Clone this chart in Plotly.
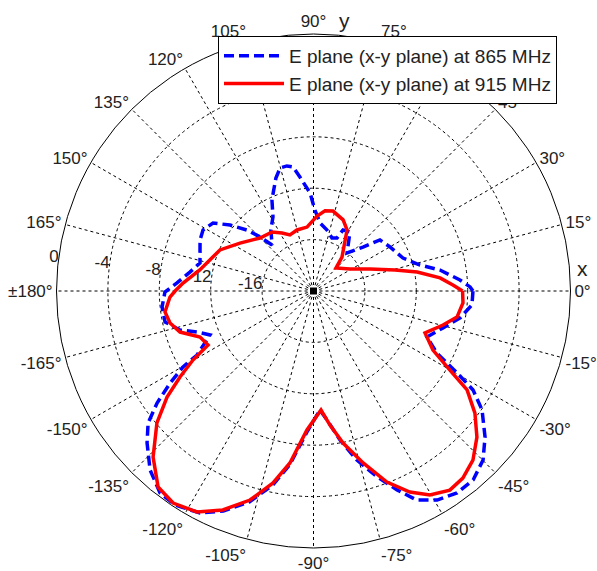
import plotly.graph_objects as go

# Angular grid: spokes every 15 degrees, labelled in the -180..180 convention
angle_ticks = list(range(0, 360, 15))
angle_labels = ["0°", "15°", "30°", "45°", "60°", "75°", "90°", "105°", "120°",
                "135°", "150°", "165°", "±180°", "-165°", "-150°", "-135°",
                "-120°", "-105°", "-90°", "-75°", "-60°", "-45°", "-30°", "-15°"]

# Radial scale in dB
radial_range = [-20, 0]
radial_ticks = [-16, -12, -8, -4, 0]
radial_labels = ["-16", "-12", "-8", "-4", "0"]

# E plane (x-y plane) at 865 MHz: angle (deg) and normalised gain (dB)
theta_865 = [0, 1.5, 4.3, 9.4, 13.7, 20.2, 29.9, 37.5, 41.6, 48.6, 58.3, 64.2,
             66.1, 70.8, 77.5, 84.5, 89, 92, 96.8, 99.4, 102, 105.2, 108.4,
             114.5, 118.7, 124.9, 132, 134.7, 137.5, 141.7, 145.9, 151.1,
             155.8, 166.1, 171.3, 176.6, -179.6, -174, -168.2, -163.7, -160.6,
             -157, -151.2, -149.8, -147.3, -144.4, -141.4, -137.6, -132.4,
             -127.2, -122.9, -117.1, -112.3, -106.9, -101.9, -97.8, -92.7,
             -86.9, -84, -79.9, -75.6, -71.1, -67.2, -63.7, -59.4, -54.6,
             -49.8, -44.9, -40.4, -35.2, -31.8, -29.7, -26.7, -22.1, -15.9,
             -10.4, -5, 0]
gain_865 = [-7.59, -7.81, -8.57, -10.02, -11.47, -12.58, -13.13, -13.48, -14.85,
            -16.05, -14.6, -14.72, -15.49, -15.63, -15.14, -14.68, -13.7,
            -12.37, -11.07, -10.22, -10.05, -10.08, -10.73, -12.2, -13.43,
            -14.2, -15.18, -14.08, -12.98, -11.72, -10.56, -10.18, -10.32,
            -10.9, -10.27, -9.36, -8.44, -8.15, -8.2, -9.18, -10.39, -11.25,
            -9.66, -8.25, -6.74, -5.03, -3.53, -2.46, -1.14, -0.26, -0.16,
            -0.6, -1.5, -2.85, -4.55, -6.35, -9.0, -10.72, -9.91, -8.22, -6.42,
            -4.71, -3.21, -1.85, -1.1, -0.72, -0.75, -1.37, -2.47, -3.95,
            -5.39, -7.14, -9.25, -10.47, -9.52, -8.4, -7.62, -7.59]

# E plane (x-y plane) at 915 MHz
theta_915 = [0, 2.5, 5.9, 10.4, 14.4, 21.3, 31.1, 45.6, 50, 61.2, 67.4, 76.3,
             81.8, 87.3, 95.8, 105.1, 112.8, 118.5, 125.1, 135.3, 146.9, 156.3,
             169.5, 176.5, 180, -177.6, -172, -167.4, -162.9, -157.9, -152.9,
             -150.2, -147.2, -144.1, -139.9, -134, -128.4, -123.5, -117.8,
             -112.5, -106.9, -101.9, -97.8, -92.7, -86.4, -83, -79, -73.9, -69,
             -64.4, -60.3, -55.6, -51.4, -46.7, -41.8, -37.1, -32.8, -30.1,
             -26.3, -20.6, -14.7, -10.3, -4.6, 0]
gain_915 = [-8.4, -9.14, -10.1, -11.8, -13.45, -15.28, -16.68, -17.5, -16.55,
            -14.58, -14.0, -13.6, -13.7, -14.16, -15.0, -15.08, -15.27, -14.86,
            -14.39, -14.14, -13.17, -12.05, -11.0, -9.83, -9.23, -8.82, -8.33,
            -8.56, -9.13, -10.47, -10.78, -9.19, -7.64, -5.93, -4.07, -2.03,
            -0.53, -0.21, -0.56, -1.56, -3.0, -4.73, -6.49, -9.17, -10.72,
            -9.49, -7.95, -6.07, -4.07, -2.65, -1.72, -1.22, -1.37, -1.91,
            -2.94, -4.25, -5.78, -7.73, -9.63, -10.73, -9.58, -8.65, -8.33, -8.4]

FONT = "Liberation Sans, Arial, sans-serif"
TEXT_COLOR = "#222222"

fig = go.Figure()

# dB labels along the 172.5 degree direction, just outside each ring
fig.add_trace(go.Scatterpolar(
    r=radial_ticks,
    theta=[172.5] * len(radial_ticks),
    text=radial_labels,
    mode="text",
    textposition="middle left",
    textfont=dict(family=FONT, size=17, color=TEXT_COLOR),
    cliponaxis=False,
    showlegend=False,
    hoverinfo="skip",
))

fig.add_trace(go.Scatterpolar(
    r=gain_865, theta=theta_865,
    mode="lines",
    name="E plane (x-y plane) at 865 MHz",
    line=dict(color="#0000ff", width=3.5, dash="10px,5px"),
))

fig.add_trace(go.Scatterpolar(
    r=gain_915, theta=theta_915,
    mode="lines",
    name="E plane (x-y plane) at 915 MHz",
    line=dict(color="#ff0000", width=3.5),
))

# origin marker
fig.add_trace(go.Scatterpolar(
    r=[radial_range[0]], theta=[0],
    mode="markers",
    marker=dict(symbol="square", size=7, color="black"),
    showlegend=False,
    hoverinfo="skip",
))

W, H = 597, 571
fig.update_layout(
    width=W, height=H,
    margin=dict(l=0, r=0, t=0, b=0),
    paper_bgcolor="white",
    plot_bgcolor="white",
    font=dict(family=FONT, size=17, color=TEXT_COLOR),
    polar=dict(
        domain=dict(x=[56.5 / W, 570.5 / W], y=[1 - 548 / H, 1 - 34 / H]),
        bgcolor="white",
        radialaxis=dict(
            range=radial_range,
            tickvals=radial_ticks[:-1],
            showticklabels=False,
            ticks="",
            showline=False,
            gridcolor="black",
            gridwidth=1,
            griddash="3px,3px",
            angle=0,
        ),
        angularaxis=dict(
            rotation=0,
            direction="counterclockwise",
            tickvals=angle_ticks,
            ticktext=angle_labels,
            ticks="",
            showline=True,
            linecolor="black",
            linewidth=1,
            showgrid=True,
            gridcolor="black",
            gridwidth=1,
            griddash="3px,3px",
            tickfont=dict(family=FONT, size=17, color=TEXT_COLOR),
        ),
    ),
    legend=dict(
        x=218 / W, y=1 - 36 / H,
        xanchor="left", yanchor="top",
        bgcolor="white",
        bordercolor="black",
        borderwidth=1,
        font=dict(family=FONT, size=19, color=TEXT_COLOR),
        itemwidth=60,
    ),
    annotations=[
        dict(text="x", x=582 / W, y=1 - 268 / H, xref="paper", yref="paper",
             xanchor="center", yanchor="middle", showarrow=False,
             font=dict(family=FONT, size=21, color=TEXT_COLOR)),
        dict(text="y", x=345 / W, y=1 - 20 / H, xref="paper", yref="paper",
             xanchor="center", yanchor="middle", showarrow=False,
             font=dict(family=FONT, size=21, color=TEXT_COLOR)),
    ],
)

fig.write_html("out.html")
